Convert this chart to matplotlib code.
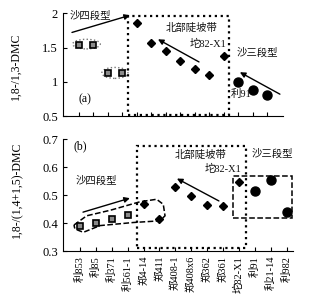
import matplotlib
matplotlib.use("Agg")
import matplotlib.pyplot as plt
from matplotlib.patches import Ellipse, Rectangle, PathPatch
from matplotlib.path import Path

plt.rcParams['font.family'] = ['Liberation Serif', 'Noto Sans CJK SC']
plt.rcParams['font.size'] = 8

# categories (sample wells)
wells = ["利853", "利85", "利371", "利561-1", "郑4-14", "郑411", "郑408-1",
         "郑408x6", "郑362", "郑361", "坨82-X1", "利91", "利21-14", "利982"]

# (a) 1,8-/1,3-DMC
sq_a = [1.54, 1.54, 1.13, 1.13]
dia_a = [1.86, 1.57, 1.45, 1.30, 1.18, 1.10, 1.37]
cir_a = [1.00, 0.88, 0.81]

# (b) 1,8-/(1,4+1,5)-DMC
sq_b = [0.391, 0.401, 0.414, 0.429]
dia_b = [0.467, 0.414, 0.529, 0.495, 0.466, 0.460, 0.545]
cir_b = [0.513, 0.553, 0.440]

idx_sq = list(range(0, 4))
idx_dia = list(range(4, 11))
idx_cir = list(range(11, 14))

fig = plt.figure(figsize=(3.23, 2.94), dpi=100)
ax1 = fig.add_axes([0.195, 0.605, 0.681, 0.350])
ax2 = fig.add_axes([0.195, 0.146, 0.712, 0.381])

arrow = dict(arrowstyle='-|>', color='black', lw=1.0, mutation_scale=8,
             shrinkA=0, shrinkB=0)
cjk = dict(fontsize=7.5, color='#111111')


def style(ax):
    for s in ['top', 'right']:
        ax.spines[s].set_visible(False)
    ax.tick_params(direction='in', length=3, width=0.8, labelsize=9)
    ax.set_xticks(range(len(wells)))


def plot_points(ax, sq, dia, cir):
    ax.plot(idx_sq, sq, 's', ms=4.5, mfc='#8a8a8a', mec='black', mew=1.2, ls='none')
    ax.plot(idx_dia, dia, 'D', ms=4.2, color='black', ls='none')
    ax.plot(idx_cir, cir, 'o', ms=6.5, color='black', ls='none')


# ---- panel (a)
style(ax1)
plot_points(ax1, sq_a, dia_a, cir_a)
ax1.set_xlim(-1.1, 14.07)
ax1.set_ylim(0.5, 2.0)
ax1.set_yticks([0.5, 1, 1.5, 2])
ax1.set_yticklabels(['0.5', '1', '1.5', '2'])
ax1.set_xticklabels([])
ax1.set_ylabel('1,8-/1,3-DMC', fontsize=8.5)
ax1.yaxis.set_label_coords(-0.186, 0.485)

ax1.add_patch(Rectangle((3.38, 0.515), 6.96, 1.445, fill=False, ls=':', lw=1.6, color='black'))
ax1.add_patch(Ellipse((0.52, 1.55), 1.9, 0.14, fill=False, ls=':', lw=1.0, color='#777777'))
ax1.add_patch(Ellipse((2.48, 1.13), 1.8, 0.16, fill=False, ls=':', lw=1.0, color='#777777'))
ax1.text(-0.62, 1.97, '沙四段型', ha='left', va='center', **cjk)
ax1.annotate('', xy=(3.52, 1.97), xytext=(-0.48, 1.72), arrowprops=arrow)
ax1.text(7.79, 1.78, '北部陡坡带', ha='center', va='center', **cjk)
ax1.annotate('', xy=(5.45, 1.62), xytext=(8.28, 1.29), arrowprops=arrow)
ax1.text(8.9, 1.56, '坨82-X1', ha='center', va='center', **cjk)
ax1.text(12.3, 1.43, '沙三段型', ha='center', va='center', **cjk)
ax1.annotate('', xy=(11.1, 1.14), xytext=(13.86, 0.82), arrowprops=arrow)
ax1.text(10.45, 0.82, '利91', ha='left', va='center', zorder=5, **cjk)
ax1.text(0.41, 0.75, '(a)', ha='center', va='center', fontsize=8.5)

# ---- panel (b)
style(ax2)
plot_points(ax2, sq_b, dia_b, cir_b)
ax2.set_xlim(-1.07, 13.4)
ax2.set_ylim(0.3, 0.7)
ax2.set_yticks([0.3, 0.4, 0.5, 0.6, 0.7])
ax2.set_xticklabels(wells, rotation=90, fontsize=7.5)
ax2.set_ylabel('1,8-/(1,4+1,5)-DMC', fontsize=8.5)
ax2.yaxis.set_label_coords(-0.174, 0.55)

ax2.add_patch(Rectangle((3.58, 0.31), 6.86, 0.366, fill=False, ls=':', lw=1.6, color='black'))
ax2.add_patch(Rectangle((9.62, 0.418), 3.75, 0.149, fill=False, ls='--', lw=1.1, color='black'))
blob = [(-0.38, 0.393), (0.42, 0.426), (1.92, 0.446), (3.77, 0.476), (4.82, 0.485),
        (5.24, 0.467), (5.35, 0.426), (5.03, 0.408), (3.35, 0.402), (1.26, 0.391),
        (0.21, 0.367), (-0.32, 0.379), (-0.38, 0.393)]
codes = [Path.MOVETO] + [Path.LINETO] * (len(blob) - 2) + [Path.CLOSEPOLY]
ax2.add_patch(PathPatch(Path(blob, codes), fill=False, ls='--', lw=1.1, color='black'))
ax2.text(0.0, 0.675, '(b)', ha='center', va='center', fontsize=8.5)
ax2.text(7.6, 0.643, '北部陡坡带', ha='center', va='center', **cjk)
ax2.text(9.0, 0.593, '坨82-X1', ha='center', va='center', **cjk)
ax2.text(12.1, 0.647, '沙三段型', ha='center', va='center', **cjk)
ax2.text(1.04, 0.55, '沙四段型', ha='center', va='center', **cjk)
ax2.annotate('', xy=(3.14, 0.489), xytext=(0.19, 0.439), arrowprops=arrow)
ax2.annotate('', xy=(6.1, 0.559), xytext=(8.74, 0.479), arrowprops=arrow)

fig.savefig('out.png', dpi=100)
